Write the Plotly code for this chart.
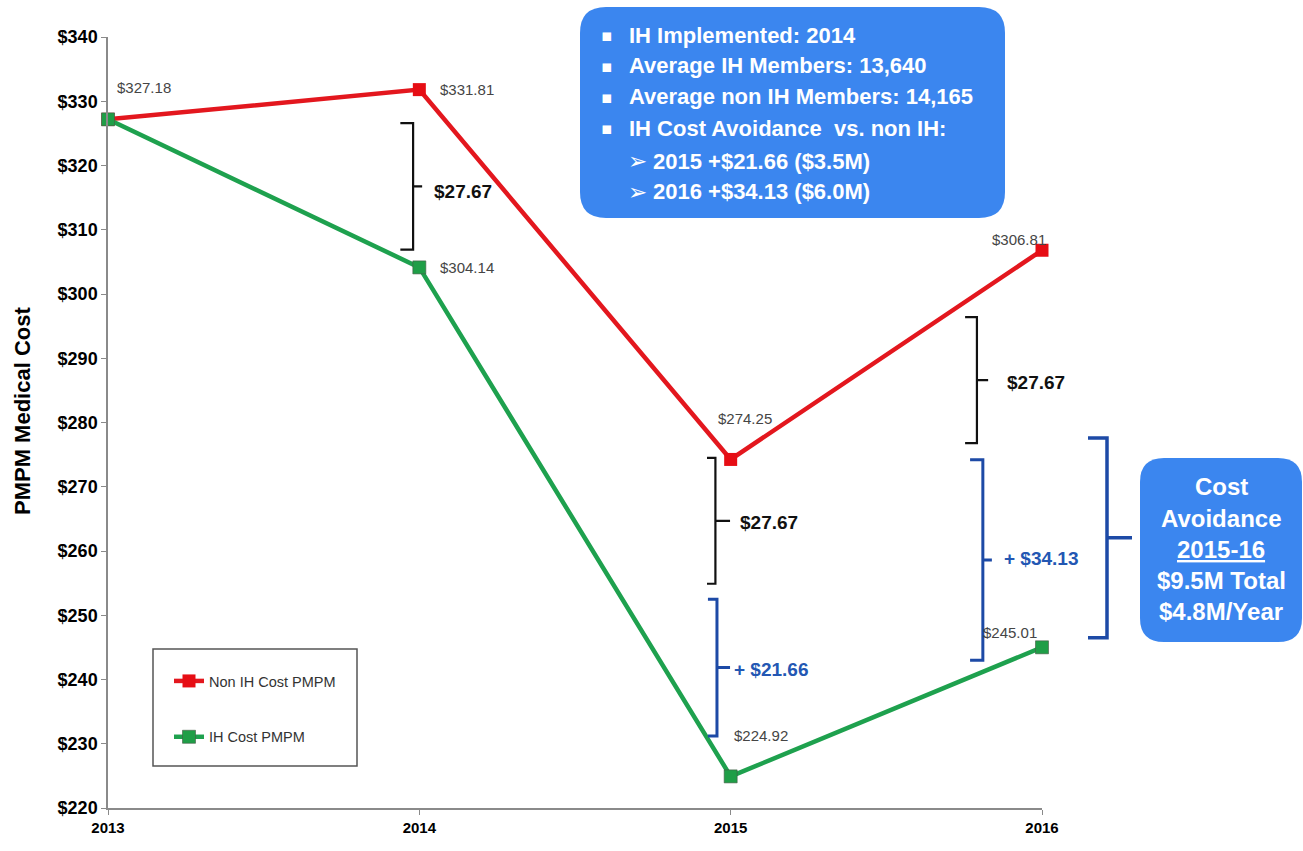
import plotly.graph_objects as go

# ---- data -------------------------------------------------------------
years = [2013, 2014, 2015, 2016]
non_ih_cost = [327.18, 331.81, 274.25, 306.81]
ih_cost = [327.18, 304.14, 224.92, 245.01]

y_tick_values = list(range(220, 341, 10))
y_tick_labels = [f"${v}" for v in y_tick_values]
x_tick_labels = [str(y) for y in years]

series_names = ["Non IH Cost PMPM", "IH Cost PMPM"]

info_bullets = [
    "IH Implemented: 2014",
    "Average IH Members: 13,640",
    "Average non IH Members: 14,165",
    "IH Cost Avoidance  vs. non IH:",
]
info_subitems = [
    "2015 +$21.66 ($3.5M)",
    "2016 +$34.13 ($6.0M)",
]
summary_lines = ["Cost", "Avoidance", "<u>2015-16</u>", "$9.5M Total", "$4.8M/Year"]

# ---- geometry helpers ---------------------------------------------------
W, H = 1303, 851
ML, MR, MT, MB = 108, 261, 37, 43
PW, PH = W - ML - MR, H - MT - MB


def px(x):
    return (x - ML) / PW


def py(y):
    return (H - MB - y) / PH


NARROW = "Liberation Sans Narrow, Arial Narrow, Liberation Sans, Arial, sans-serif"
SANS = "Liberation Sans, Arial, sans-serif"
RED = "#e3171e"
GREEN = "#1ea14e"
BOX_BLUE = "#3b86ef"
BRACKET_BLUE = "#1d4aa6"
LABEL_BLUE = "#2357b3"

fig = go.Figure()

fig.add_trace(go.Scatter(
    x=years, y=non_ih_cost, name=series_names[0], mode="lines+markers",
    line=dict(color=RED, width=4.5),
    marker=dict(symbol="square", size=13, color="#e60d14"),
    legendgroup="a", cliponaxis=False,
))
fig.add_trace(go.Scatter(
    x=years, y=ih_cost, name=series_names[1], mode="lines+markers",
    line=dict(color=GREEN, width=4.5),
    marker=dict(symbol="square", size=13, color="#1f9e47",
                line=dict(color="rgba(70,90,70,0.6)", width=1)),
    legendgroup="b", cliponaxis=False,
))

annotations = []
shapes = []

# ---- point value labels ---------------------------------------------
non_ih_label_pos = [("left", 7, 32), ("left", 19, 0), ("center", 14, 41), ("center", -23, 11)]
ih_label_pos = [None, ("left", 19, 0), ("left", 1, 41), ("center", -32, 15)]
for series, placements in ((non_ih_cost, non_ih_label_pos), (ih_cost, ih_label_pos)):
    for yr, v, pl in zip(years, series, placements):
        if pl is None:
            continue
        anchor, dx, dy = pl
        annotations.append(dict(
            x=yr, y=v, text=f"${v:.2f}", showarrow=False,
            xanchor=anchor, yanchor="middle", xshift=dx, yshift=dy,
            font=dict(family=SANS, size=15, color="#454545"),
        ))

# ---- gap brackets -----------------------------------------------------
baseline_gap = non_ih_cost[1] - ih_cost[1]
gap_2015 = non_ih_cost[2] - ih_cost[2] - baseline_gap
gap_2016 = non_ih_cost[3] - ih_cost[3] - baseline_gap


def bracket(xv, xhook, xtip, ytop, ybot, color, width, xref="x", yref="y"):
    ymid = (ytop + ybot) / 2
    path = (f"M {xhook},{ytop} L {xv},{ytop} L {xv},{ybot} L {xhook},{ybot} "
            f"M {xv},{ymid} L {xtip},{ymid}")
    shapes.append(dict(type="path", path=path, xref=xref, yref=yref,
                       line=dict(color=color, width=width)))


bracket(2013.980, 2013.939, 2014.009, 326.6, 306.9, "#111111", 2.2)
bracket(2014.951, 2014.924, 2014.998, 274.5, 254.9, "#111111", 2.2)
bracket(2015.791, 2015.753, 2015.827, 296.4, 276.8, "#111111", 2.2)
bracket(2014.956, 2014.927, 2014.998, 252.5, 231.2, BRACKET_BLUE, 3)
bracket(2015.810, 2015.769, 2015.839, 274.2, 243.0, BRACKET_BLUE, 3)
bracket(px(1107), px(1088), px(1132), 277.6, 246.5, BRACKET_BLUE, 3.5, xref="paper")

gap_labels = [
    (2014.041, 315.9, f"${baseline_gap:.2f}", "#111111"),
    (2015.024, 264.5, f"${baseline_gap:.2f}", "#111111"),
    (2015.881, 286.3, f"${baseline_gap:.2f}", "#111111"),
    (2015.004, 241.6, f"+ ${gap_2015:.2f}", LABEL_BLUE),
    (2015.872, 258.9, f"+ ${gap_2016:.2f}", LABEL_BLUE),
]
for x, y, txt, col in gap_labels:
    annotations.append(dict(
        x=x, y=y, text=txt, showarrow=False, xanchor="left", yanchor="middle",
        font=dict(family=NARROW, size=19, color=col, weight="bold"),
    ))


# ---- rounded callout boxes ---------------------------------------------
def rounded_box(x0, y0, x1, y1, r, color):
    # pixel rectangle -> paper path with quadratic corners
    X0, X1 = px(x0), px(x1)
    Y0, Y1 = py(y0), py(y1)
    rx, ry = r / PW, r / PH
    path = (f"M {X0 + rx},{Y0} L {X1 - rx},{Y0} Q {X1},{Y0} {X1},{Y0 - ry} "
            f"L {X1},{Y1 + ry} Q {X1},{Y1} {X1 - rx},{Y1} "
            f"L {X0 + rx},{Y1} Q {X0},{Y1} {X0},{Y1 + ry} "
            f"L {X0},{Y0 - ry} Q {X0},{Y0} {X0 + rx},{Y0} Z")
    shapes.append(dict(type="path", path=path, xref="paper", yref="paper",
                       fillcolor=color, line=dict(width=0), layer="above"))


rounded_box(580, 7, 1005, 218, 26, BOX_BLUE)
rounded_box(1140, 458, 1302, 642, 24, BOX_BLUE)

white_bold = dict(family=SANS, size=22, color="white", weight="bold")
line_y = [35, 66, 97, 128, 161, 192]
for i, txt in enumerate(info_bullets):
    annotations.append(dict(x=px(607), y=py(line_y[i]), xref="paper", yref="paper",
                            text="▪", showarrow=False, xanchor="center", yanchor="middle",
                            font=dict(family="DejaVu Sans", size=17, color="white")))
    annotations.append(dict(x=px(627), y=py(line_y[i]), xref="paper", yref="paper",
                            text=txt, showarrow=False, xanchor="left", yanchor="middle",
                            font=white_bold))
for j, txt in enumerate(info_subitems):
    yy = line_y[len(info_bullets) + j]
    annotations.append(dict(x=px(626), y=py(yy), xref="paper", yref="paper",
                            text="➢", showarrow=False, xanchor="left", yanchor="middle",
                            font=dict(family="DejaVu Sans", size=23, color="white")))
    annotations.append(dict(x=px(651), y=py(yy), xref="paper", yref="paper",
                            text=txt, showarrow=False, xanchor="left", yanchor="middle",
                            font=white_bold))

summary_y = [487, 518, 549, 580, 611]
for txt, yy in zip(summary_lines, summary_y):
    annotations.append(dict(x=px(1221), y=py(yy), xref="paper", yref="paper",
                            text=txt, showarrow=False, xanchor="center", yanchor="middle",
                            font=dict(family=SANS, size=24, color="white", weight="bold")))

# ---- axis title -------------------------------------------------------
annotations.append(dict(x=px(22), y=py(411), xref="paper", yref="paper",
                        text="PMPM Medical Cost", textangle=-90, showarrow=False,
                        xanchor="center", yanchor="middle",
                        font=dict(family=SANS, size=22, color="black", weight="bold")))

# ---- legend frame -------------------------------------------------------
shapes.append(dict(type="rect", xref="paper", yref="paper",
                   x0=px(153), x1=px(357), y0=py(649), y1=py(766),
                   line=dict(color="#555555", width=1.5), fillcolor="white",
                   layer="below"))

fig.update_layout(
    width=W, height=H,
    margin=dict(l=ML, r=MR, t=MT, b=MB),
    paper_bgcolor="white", plot_bgcolor="white",
    showlegend=True,
    legend=dict(x=px(169), y=py(665), xanchor="left", yanchor="top",
                bgcolor="rgba(0,0,0,0)", borderwidth=0,
                tracegroupgap=34,
                font=dict(family=NARROW, size=14.5, color="#333333")),
    xaxis=dict(range=[2013, 2016], tickvals=years, ticktext=x_tick_labels,
               showgrid=False, zeroline=False, showline=True,
               linecolor="#8a8a8a", linewidth=1.5, ticks="outside", ticklen=5,
               tickcolor="#8a8a8a",
               tickfont=dict(family=NARROW, size=15, color="black", weight="bold")),
    yaxis=dict(range=[220, 340], tickvals=y_tick_values, ticktext=y_tick_labels,
               showgrid=False, zeroline=False, showline=True,
               linecolor="#8a8a8a", linewidth=1.5, ticks="outside", ticklen=5,
               tickcolor="#8a8a8a",
               tickfont=dict(family=NARROW, size=18, color="black", weight="bold")),
    annotations=annotations,
    shapes=shapes,
)

fig.write_html("out.html")
